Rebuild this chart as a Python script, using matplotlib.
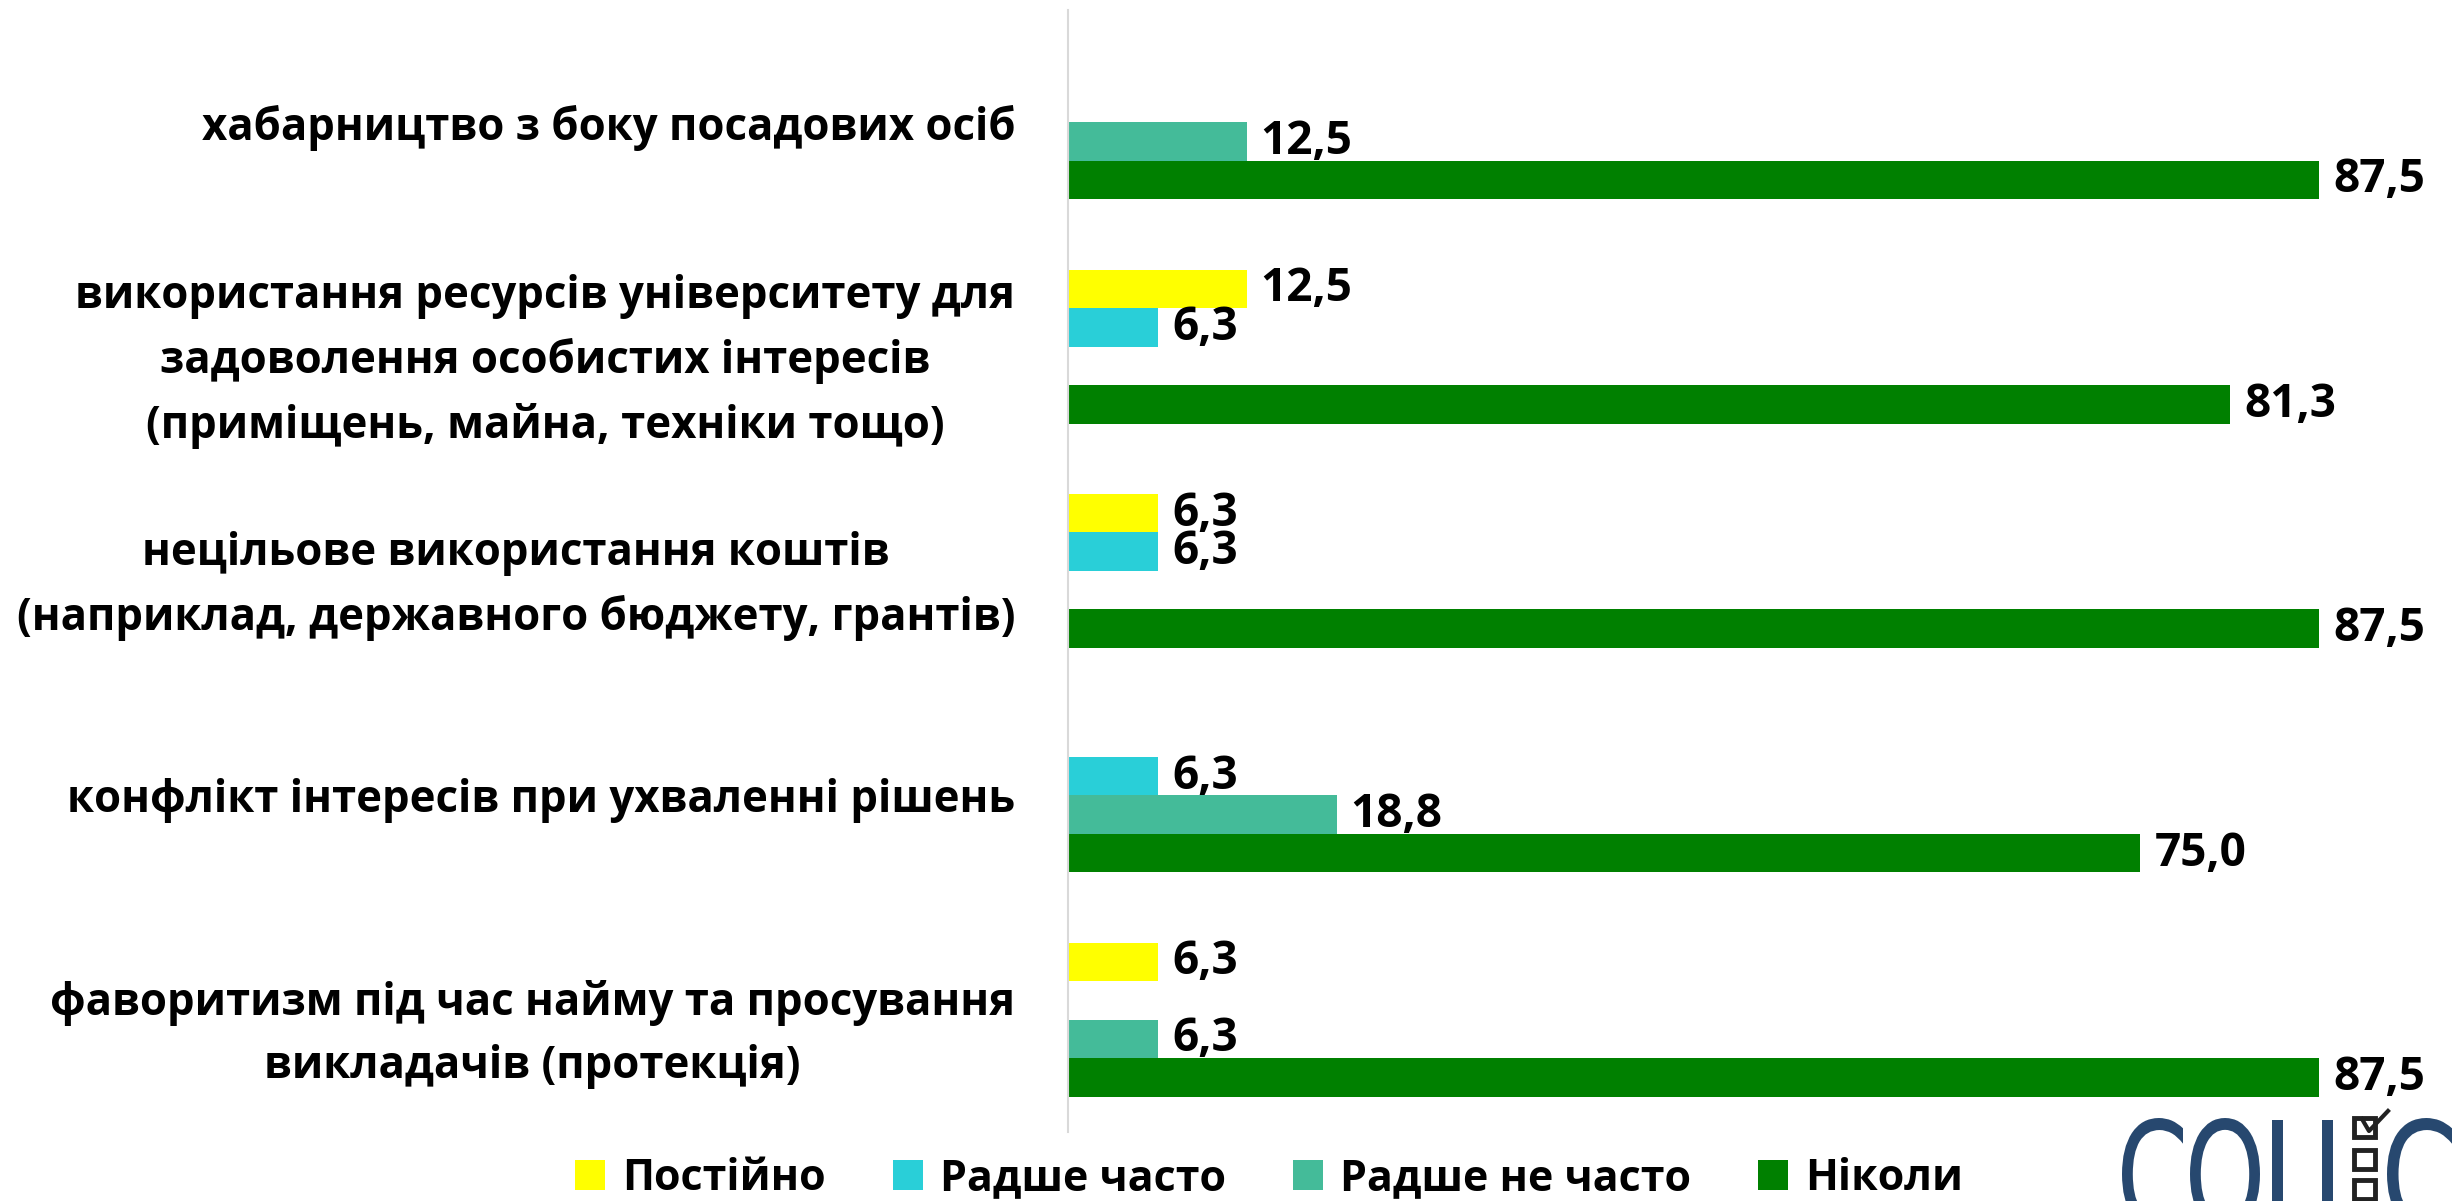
import numpy as np
import matplotlib
matplotlib.use('Agg')
from matplotlib import pyplot as plt
from matplotlib.patches import Patch, Rectangle, PathPatch
from matplotlib.lines import Line2D
from matplotlib.textpath import TextPath
from matplotlib.font_manager import FontProperties
from matplotlib.transforms import Affine2D, IdentityTransform

plt.rcParams['font.family'] = ['Open Sans', 'DejaVu Sans']
plt.rcParams['font.weight'] = 'bold'

categories = [
    'хабарництво з боку посадових осіб',
    'використання ресурсів університету для\nзадоволення особистих інтересів\n(приміщень, майна, техніки тощо)',
    'нецільове використання коштів\n(наприклад, державного бюджету, грантів)',
    'конфлікт інтересів при ухваленні рішень',
    'фаворитизм під час найму та просування\nвикладачів (протекція)',
]
series_names = ['Постійно', 'Радше часто', 'Радше не часто', 'Ніколи']
postiino = [0, 12.5, 6.3, 0, 6.3]
radshe_chasto = [0, 6.3, 6.3, 6.3, 0]
radshe_ne_chasto = [12.5, 0, 0, 18.8, 6.3]
nikoly = [87.5, 81.3, 87.5, 75.0, 87.5]
series_values = [postiino, radshe_chasto, radshe_ne_chasto, nikoly]
colors = ['#FFFF00', '#29CFD8', '#44BB99', '#008000']

W, H = 2455, 1201
fig = plt.figure(figsize=(W / 100, H / 100), dpi=100)
ax = fig.add_axes([0.435, 0.0575, 0.565, 0.9342])

y = np.arange(len(categories))
h = 0.1716
for j, (vals, col) in enumerate(zip(series_values, colors)):
    pos = y + (j - 1.5) * h
    bars = ax.barh(pos, vals, height=h, color=col, linewidth=0)
    for b, v in zip(bars, vals):
        if v == 0:
            continue
        ax.annotate(f'{v:.1f}'.replace('.', ','),
                    (b.get_width(), b.get_y() + b.get_height() / 2),
                    xytext=(10, 0), textcoords='offset points',
                    ha='left', va='center', fontsize=33, fontweight='bold')

ax.set_xlim(0, 97)
ax.set_ylim(4.5, -0.5)
ax.set_xticks([])
ax.set_yticks(y)
ax.set_yticklabels(categories, fontsize=31.5, fontweight='bold')
for lab in ax.get_yticklabels():
    lab.set_multialignment('center')
    lab.set_linespacing(1.55)
ax.tick_params(axis='y', length=0, pad=38)
for s in ['top', 'right', 'bottom']:
    ax.spines[s].set_visible(False)
ax.spines['left'].set_color('#D9D9D9')
ax.spines['left'].set_linewidth(1.5)

handles = [Patch(facecolor=c, edgecolor='none') for c in colors]
fig.legend(handles, series_names, loc='center', bbox_to_anchor=(0.517, 0.019),
           ncol=4, frameon=False, fontsize=31, handlelength=0.7,
           handleheight=0.7, handletextpad=0.4, columnspacing=1.55)

# logo in the corner, drawn in pixel coordinates (y measured from top)
logo = '#27486F'
prop = FontProperties(family='DejaVu Sans', weight='normal')
cap_top, baseline = 1118, 1228
for ch, x0, x1 in [('С', 2122, 2183), ('О', 2190, 2260), ('Ц', 2272, 2342),
                   ('С', 2387, 2452)]:
    tp = TextPath((0, 0), ch, size=100, prop=prop)
    ext = tp.get_extents()
    cap = TextPath((0, 0), 'О', size=100, prop=prop).get_extents().y1
    sx = (x1 - x0) / ext.width
    sy = (baseline - cap_top) / cap
    tr = Affine2D().translate(-ext.x0, 0).scale(sx, sy).translate(x0, H - baseline)
    fig.add_artist(PathPatch(tr.transform_path(tp), facecolor=logo,
                             edgecolor='none', transform=IdentityTransform()))
for top in [1118, 1150, 1180]:
    fig.add_artist(Rectangle((2354 / W, 1 - (top + 19) / H), 21 / W, 19 / H,
                             transform=fig.transFigure, fill=False,
                             edgecolor='#222222', linewidth=3.5))
fig.add_artist(Line2D([2362 / W, 2369 / W, 2388 / W],
                      [1 - 1119 / H, 1 - 1131 / H, 1 - 1111 / H],
                      transform=fig.transFigure, color='#222222', linewidth=3))

fig.savefig('out.png', dpi=100)
